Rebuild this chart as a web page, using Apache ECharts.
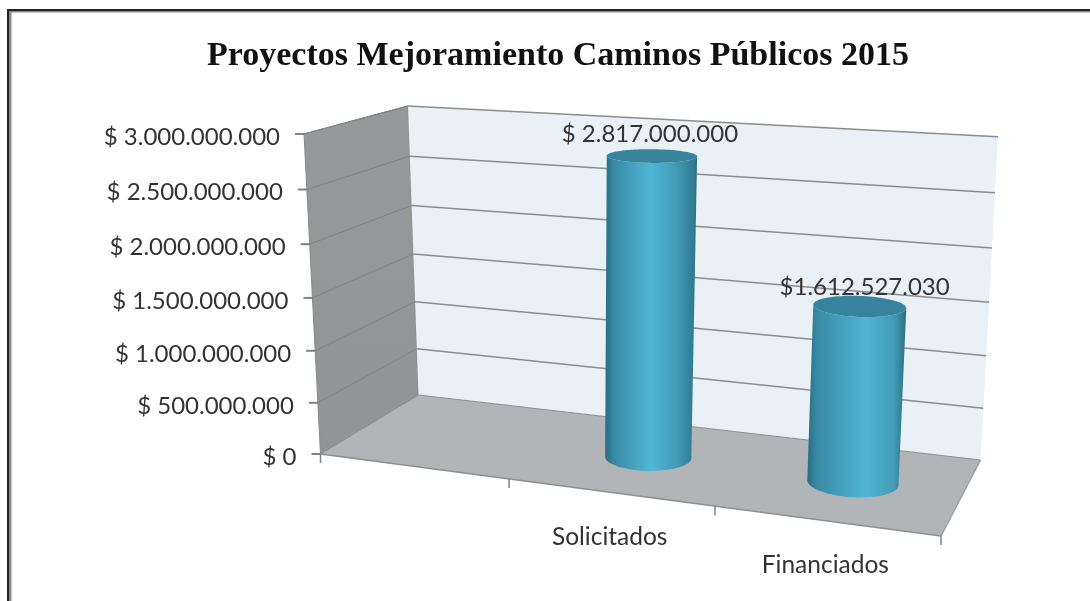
<!DOCTYPE html>
<html><head><meta charset="utf-8">
<style>html,body{margin:0;padding:0;background:#fff}#c{width:1090px;height:601px}</style>
<script src="https://cdn.jsdelivr.net/npm/echarts@6/dist/echarts.min.js"></script>
</head><body><div id="c"></div>
<script>
const titleText = 'Proyectos Mejoramiento Caminos Públicos 2015';
const categories = ['', 'Solicitados', 'Financiados'];
const seriesValues = [null, 2817000000, 1612527030];
const valueLabels = ['', '$ 2.817.000.000', '$1.612.527.030'];
const tickValues = [0, 500000000, 1000000000, 1500000000, 2000000000, 2500000000, 3000000000];
const tickLabels = ['$ 0', '$ 500.000.000', '$ 1.000.000.000', '$ 1.500.000.000', '$ 2.000.000.000', '$ 2.500.000.000', '$ 3.000.000.000'];

// Perspective frame of the 3D box (layout only)
const floorQuad = [[320.5,454],[941,536],[980.5,460],[418.5,395]];
const ceilQuad  = [[304,134],[957,172],[998,136.7],[408,106]];
const gridBox = {left:100, top:100, width:800, height:400};
const FONT = 'Lato, "Open Sans", sans-serif';
const TXT = '#333333';

function homography(q){
  const [p0,p1,p2,p3]=q;
  const dx1=p1[0]-p2[0],dx2=p3[0]-p2[0],sx=p0[0]-p1[0]+p2[0]-p3[0];
  const dy1=p1[1]-p2[1],dy2=p3[1]-p2[1],sy=p0[1]-p1[1]+p2[1]-p3[1];
  const den=dx1*dy2-dx2*dy1;
  const g=(sx*dy2-dx2*sy)/den,h=(dx1*sy-sx*dy1)/den;
  const a=p1[0]-p0[0]+g*p1[0],b=p3[0]-p0[0]+h*p3[0],c=p0[0];
  const d=p1[1]-p0[1]+g*p1[1],e=p3[1]-p0[1]+h*p3[1],f=p0[1];
  return (u,w)=>{const z=g*u+h*w+1;return [(a*u+b*w+c)/z,(d*u+e*w+f)/z];};
}
const floorH=homography(floorQuad), ceilH=homography(ceilQuad);
function project(u,v,w){
  const t=v/(v+(1-v)*1.05);
  const a=floorH(u,w), b=ceilH(u,w);
  return [a[0]+(b[0]-a[0])*t, a[1]+(b[1]-a[1])*t];
}
function toUV(api,cat,val){
  const p=api.coord([cat,val]);
  return [(p[0]-gridBox.left)/gridBox.width,(gridBox.top+gridBox.height-p[1])/gridBox.height];
}
const poly=(pts,fill,stroke,lw)=>({type:'polygon',silent:true,shape:{points:pts},style:{fill,stroke:stroke||null,lineWidth:lw||0}});
const line=(a,b,stroke,lw)=>({type:'line',silent:true,shape:{x1:a[0],y1:a[1],x2:b[0],y2:b[1]},style:{stroke,lineWidth:lw}});
const text=(s,x,y,size,align)=>({type:'text',silent:true,style:{text:s,x,y,fill:TXT,font:size+'px '+FONT,align:align,verticalAlign:'middle'}});

function renderWalls(){
  return {type:'group',children:[
    poly([project(0,0,0),project(0,1,0),project(0,1,1),project(0,0,1)],
      new echarts.graphic.LinearGradient(0,0,0,1,[{offset:0,color:'#96999a'},{offset:1,color:'#909495'}]),'#85898a',1),
    poly([project(0,0,1),project(0,1,1),project(1,1,1),project(1,0,1)],'#e9f0f6'),
    poly([project(0,0,0),project(0,0,1),project(1,0,1),project(1,0,0)],'#b1b5b8'),
    line(project(0,0,0),project(1,0,0),'#8b8f91',1.5),
    line(project(1,0,0),project(1,0,1),'#9a9ea0',1.5),
    line(project(0,0,1),project(1,0,1),'#8b8f91',1),
    line(project(0,0,0),project(0,0,1),'#8b8f91',1),
    line(project(0,1,0),project(0,1,1),'#85898a',1)
  ]};
}
function renderTick(params,api){
  const val=api.value(0), i=params.dataIndex;
  const v=toUV(api,0,val)[1];
  const f=project(0,v,0), b=project(0,v,1), r=project(1,v,1);
  const kids=[line([f[0]-9,f[1]],f,'#808080',2),text(tickLabels[i],f[0]-24,f[1]+3,24,'right')];
  if(i>0){ kids.push(line(f,b,'#7f8384',1)); kids.push(line(b,r,'#8c8c8c',1.5)); }
  return {type:'group',children:kids};
}
function renderCat(params,api){
  const i=params.dataIndex, band=api.size([1,0])[0]/gridBox.width;
  const u=toUV(api,i,0)[0];
  const kids=[];
  const tk=project(u+band/2,0,0);
  kids.push(line(tk,[tk[0],tk[1]+9],'#808080',1.5));
  if(i===0){const s=project(0,0,0);kids.push(line(s,[s[0],s[1]+9],'#808080',1.5));}
  const c=project(u,0,0);
  if(categories[i]) kids.push(text(categories[i],c[0],c[1]+44.5,24.5,'center'));
  return {type:'group',children:kids};
}
function ring(u,v){
  const pts=[];
  for(let a=0;a<96;a++){
    const th=a/96*Math.PI*2;
    pts.push(project(u+0.0695*Math.cos(th),v,0.5+0.19*Math.sin(th)));
  }
  return pts;
}
function renderBar(params,api){
  const i=api.value(0), val=api.value(1);
  const [u,v]=toUV(api,i,val);
  const top=ring(u,v), bot=ring(u,0);
  const minMax=r=>{let a=0,b=0;r.forEach((p,k)=>{if(p[0]<r[a][0])a=k;if(p[0]>r[b][0])b=k;});return [a,b];};
  const [ta,tb]=minMax(top), [ba,bb]=minMax(bot);
  const pts=[];
  const walk=(r,from,to)=>{
    const n=r.length;
    let k,fw=[],bw=[];
    for(k=from;;k=(k+1)%n){fw.push(r[k]);if(k===to)break;}
    for(k=from;;k=(k-1+n)%n){bw.push(r[k]);if(k===to)break;}
    const avg=l=>l.reduce((s,p)=>s+p[1],0)/l.length;
    return avg(fw)>avg(bw)?fw:bw;
  };
  walk(bot,ba,bb).forEach(p=>pts.push(p));
  walk(top,tb,ta).forEach(p=>pts.push(p));
  const hi=i===1?0.5:0.6;
  const grad=new echarts.graphic.LinearGradient(0,0,1,0,[
    {offset:0,color:'#2a6c82'},{offset:0.1,color:'#3a8ba5'},{offset:hi,color:'#4fb6d5'},
    {offset:Math.min(hi+0.28,0.9),color:'#429ab5'},{offset:0.97,color:'#2f7a91'},{offset:1,color:'#2a6a7f'}]);
  const c=project(u,v,0.5);
  const ly=top.reduce((m,p)=>Math.min(m,p[1]),1e9);
  return {type:'group',children:[
    poly(pts,grad),
    poly(top,'#37849c'),
    text(valueLabels[i],c[0]+(i===1?-2:5),ly-(i===1?15:8),24,'center')
  ]};
}
const chart=echarts.init(document.getElementById('c'),null,{renderer:'canvas'});
chart.setOption({
  animation:false,
  backgroundColor:'#fff',
  title:{text:titleText,left:553,top:51,textAlign:'center',textVerticalAlign:'middle',
    textStyle:{fontFamily:'"Liberation Serif",serif',fontWeight:'bold',fontSize:34,color:'#111'}},
  grid:gridBox,
  xAxis:{type:'category',data:categories,show:false},
  yAxis:{type:'value',min:0,max:3000000000,interval:500000000,show:false},
  graphic:[
    {type:'rect',silent:true,shape:{x:7,y:9,width:1083,height:2},style:{fill:'#222'}},
    {type:'rect',silent:true,shape:{x:7,y:11,width:1083,height:1.5},style:{fill:'#8a8a8a'}},
    {type:'rect',silent:true,shape:{x:7,y:9,width:2,height:592},style:{fill:'#222'}},
    {type:'rect',silent:true,shape:{x:9,y:11,width:2.5,height:590},style:{fill:'#8a8a8a'}}
  ],
  series:[
    {type:'custom',name:'walls',z:1,clip:false,silent:true,data:[0],renderItem:renderWalls,encode:{x:0,y:0}},
    {type:'custom',name:'valueAxis',z:2,clip:false,silent:true,
      data:tickValues.map(t=>[t]),renderItem:renderTick,encode:{y:0}},
    {type:'custom',name:'categoryAxis',z:2,clip:false,silent:true,
      data:categories.map((c,i)=>[i]),renderItem:renderCat,encode:{x:0}},
    {type:'custom',name:'Proyectos',z:3,clip:false,silent:true,
      data:seriesValues.map((v,i)=>[i,v]).filter(d=>d[1]!=null),renderItem:renderBar,encode:{x:0,y:1}}
  ]
});
</script></body></html>
